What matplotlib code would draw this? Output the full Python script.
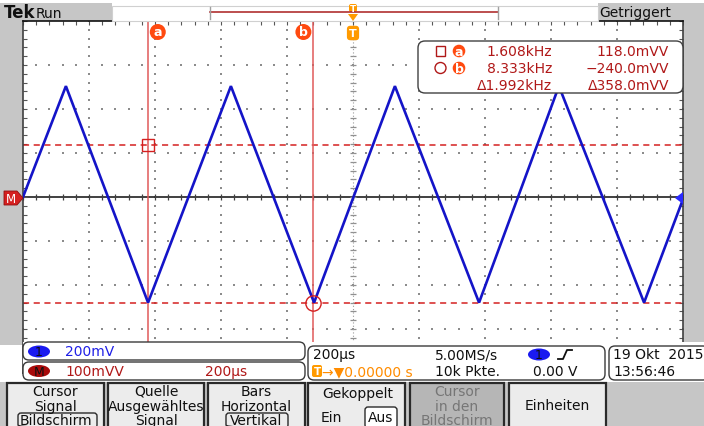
import matplotlib
matplotlib.use("Agg")
import matplotlib.pyplot as plt
import numpy as np
from matplotlib.patches import Rectangle, FancyBboxPatch, Ellipse, Polygon, Circle

# ---- acquisition data -------------------------------------------------------
wave_time_us = [-1000, -870, -621, -370, -118, 127, 382, 624, 882, 1000]
wave_mv = [0, 252, -240, 252, -240, 252, -240, 252, -240, -5]

cursor_names = ["a", "b"]
cursor_freq_khz = [1.608, 8.333]       # shown as 1/|t|
cursor_level_mv = [118.0, -240.0]

time_per_div_us = 200
volt_per_div_mv = 100
n_hdiv, n_vdiv = 10, 8

ch1_scale = "200mV"
math_scale = "100mVV"
math_time = "200µs"
horiz_scale = "200µs"
sample_rate = "5.00MS/s"
record_len = "10k Pkte."
trig_level = "0.00 V"
trig_pos = "0.00000 s"
date_str = "19 Okt  2015"
time_str = "13:56:46"

button_titles = [["Cursor", "Signal", "Bildschirm"],
                 ["Quelle", "Ausgewähltes", "Signal"],
                 ["Bars", "Horizontal", "Vertikal"],
                 ["Gekoppelt", "Ein", "Aus"],
                 ["Cursor", "in den", "Bildschirm"],
                 ["Einheiten"]]

# ---- figure / axes ---------------------------------------------------------
W, H = 704, 427
fig = plt.figure(figsize=(W / 100, H / 100), dpi=100, facecolor="white")
plt.rcParams["font.family"] = ["DejaVu Sans"]

GRAY = "#c6c6c6"
RED = "#b01818"
BLUE = "#2020e6"
ORANGE = "#ff9a00"
CURS = "#ff4a10"
FS = 10

bg = fig.add_axes([0, 0, 1, 1], zorder=0)
bg.set_xlim(0, W); bg.set_ylim(H, 0); bg.axis("off")

gx0, gx1, gy0, gy1 = 23, 683, 22, 374
ax = fig.add_axes([gx0 / W, 1 - gy1 / H, (gx1 - gx0) / W, (gy1 - gy0) / H], zorder=1)

ui = fig.add_axes([0, 0, 1, 1], zorder=2)
ui.set_xlim(0, W); ui.set_ylim(H, 0); ui.axis("off")
ui.patch.set_alpha(0)

# background frame
for x, y, w, h in [(0, 4, 112, 18), (598, 4, 106, 18), (0, 22, 23, 324),
                   (683, 22, 21, 325), (0, 383, W, 44)]:
    bg.add_patch(Rectangle((x, y), w, h, facecolor=GRAY, edgecolor="none"))

# ---- graticule --------------------------------------------------------------
tmax = n_hdiv / 2 * time_per_div_us
vmax = n_vdiv / 2 * volt_per_div_mv
ax.set_xlim(-tmax, tmax)
ax.set_ylim(-vmax, vmax)
ax.set_xticks([]); ax.set_yticks([])
for s in ax.spines.values():
    s.set_color("#404040"); s.set_linewidth(1.2)
ax.spines["top"].set_color("#101010")

dot_c = "#8c8c8c"
tdots = np.arange(-tmax, tmax + 1, time_per_div_us / 5)
vdots = np.arange(-vmax, vmax + 1, volt_per_div_mv / 5)
for k in range(1, n_hdiv):
    t = -tmax + k * time_per_div_us
    if t == 0:
        continue
    ax.scatter(np.full_like(vdots, t), vdots, s=1.3, marker="s", c=dot_c, linewidths=0, zorder=1)
for k in range(1, n_vdiv):
    v = -vmax + k * volt_per_div_mv
    if v == 0:
        continue
    ax.scatter(tdots, np.full_like(tdots, v), s=1.3, marker="s", c=dot_c, linewidths=0, zorder=1)

# centre lines with minor ticks
ax.axhline(0, color="#202020", lw=1.2, zorder=1.5)
ax.scatter(tdots, np.zeros_like(tdots), marker="|", s=14, c="#404040", linewidths=0.9, zorder=1.5)
ax.plot(np.zeros_like(vdots), vdots, color="#909090", lw=0, marker="_", ms=5, mew=0.9, zorder=1.5)
ax.axvline(0, color="#9a9a9a", lw=0.8, ls=(0, (1, 2)), zorder=1.5)
# edge ticks
ax.plot(tdots, np.full_like(tdots, vmax - 4), lw=0, marker="|", ms=3, mew=0.8, c="#555555")
ax.plot(np.full_like(vdots, -tmax + 6), vdots, lw=0, marker="_", ms=3, mew=0.8, c="#555555")
ax.plot(np.full_like(vdots, tmax - 6), vdots, lw=0, marker="_", ms=3, mew=0.8, c="#555555")

# ---- waveform ---------------------------------------------------------------
ax.plot(wave_time_us, wave_mv, color="#1414c8", lw=1.9, zorder=3, solid_joinstyle="miter")

# ---- cursors ----------------------------------------------------------------
cursor_t = [-1000.0 / f for f in cursor_freq_khz]
for name, t, v, mk, dx in zip(cursor_names, cursor_t, cursor_level_mv, ["s", "o"], [10, -10]):
    ax.axvline(t, color="#e05a5a", lw=1.1, zorder=2)
    ax.axhline(v, color="#d42020", lw=1.1, ls=(0, (4, 3)), zorder=2)
    ax.plot([t], [v], marker=mk, ms=9 if mk == "s" else 11, mfc="none", mec="#d42020", mew=1.0, zorder=4)
    ax.annotate(name, xy=(t, vmax), xytext=(dx, -11), textcoords="offset pixels",
                ha="center", va="center", color="white", fontsize=9, fontweight="bold",
                bbox=dict(boxstyle="circle,pad=0.12", fc=CURS, ec="none"), zorder=5)

# trigger marker inside graticule
ax.annotate("T", xy=(0, vmax), xytext=(0, -12), textcoords="offset pixels",
            ha="center", va="center", color="white", fontsize=8, fontweight="bold",
            bbox=dict(boxstyle="round,pad=0.2,rounding_size=0.3", fc=ORANGE, ec="none"), zorder=5)

# cursor readout box
ui.add_patch(FancyBboxPatch((418, 42), 265, 52, boxstyle="round,pad=0,rounding_size=7",
                            fc="white", ec="#404040", lw=1.0))
ui.add_patch(Rectangle((436, 47), 9, 10, fc="none", ec=RED, lw=1.0))
ui.add_patch(Circle((440.5, 69), 5.5, fc="none", ec=RED, lw=1.0))
for name, y in zip(cursor_names, [52, 69]):
    ui.add_patch(Circle((459, y), 6.3, fc=CURS, ec="none"))
    ui.text(459, y + 0.5, name, color="white", fontsize=9, fontweight="bold", ha="center", va="center")
rows_y = [52, 69]
for f, v, y in zip(cursor_freq_khz, cursor_level_mv, rows_y):
    ui.text(552, y, f"{f:.3f}kHz", color=RED, fontsize=FS, ha="right", va="center")
    ui.text(669, y, f"{v:.1f}mVV".replace("-", "\u2212"), color=RED, fontsize=FS, ha="right", va="center")
dfreq = 1000.0 / (cursor_t[1] - cursor_t[0])
dlev = cursor_level_mv[0] - cursor_level_mv[1]
ui.text(552, 86, f"\u0394{dfreq:.3f}kHz", color=RED, fontsize=FS, ha="right", va="center")
ui.text(669, 86, f"\u0394{dlev:.1f}mVV", color=RED, fontsize=FS, ha="right", va="center")

# ground / channel markers
ui.add_patch(Polygon([(4, 192), (17, 192), (23, 199), (17, 206), (4, 206)], closed=True,
                     fc="#d42020", ec="#901010", lw=0.6))
ui.text(11, 199.5, "M", color="white", fontsize=8.5, ha="center", va="center")
ui.add_patch(Polygon([(683, 193), (683, 205), (675, 199)], closed=True, fc="#2a2aff", ec="none"))

# ---- top status bar ---------------------------------------------------------
ui.text(4, 13.5, "Tek", fontsize=12, fontweight="bold", ha="left", va="center", color="#101010")
ui.text(36, 13.5, "Run", fontsize=FS, ha="left", va="center", color="#101010")
ui.add_patch(Rectangle((112, 7), 486, 15, fc="white", ec="#d0d0d0", lw=0.8))
ui.plot([210, 498], [13, 13], color="#b03030", lw=1.2)
ui.plot([210, 210], [8, 20], color="#a0a0a0", lw=1.0)
ui.plot([498, 498], [8, 20], color="#a0a0a0", lw=1.0)
ui.text(599, 13.5, "Getriggert", fontsize=FS, ha="left", va="center", color="#101010")
ui.add_patch(FancyBboxPatch((349, 5), 8, 8, boxstyle="round,pad=0,rounding_size=2", fc=ORANGE, ec="none"))
ui.text(353, 9.5, "T", color="white", fontsize=6.5, fontweight="bold", ha="center", va="center")
ui.add_patch(Polygon([(348, 15), (358, 15), (353, 22)], closed=True, fc=ORANGE, ec="none"))

# ---- readout boxes ----------------------------------------------------------
ui.add_patch(Rectangle((23, 343), W - 23, 40, fc="white", ec="none"))
box_kw = dict(boxstyle="round,pad=0,rounding_size=6", fc="white", ec="#3a3a3a", lw=1.0)
ui.add_patch(FancyBboxPatch((23, 343), 282, 18, **box_kw))
ui.add_patch(FancyBboxPatch((23, 363), 282, 18, **box_kw))
ui.add_patch(FancyBboxPatch((308, 347), 297, 34, **box_kw))
ui.add_patch(FancyBboxPatch((609, 347), 100, 34, **box_kw))

ui.add_patch(Ellipse((39, 352.5), 22, 12, fc="#1a1af0", ec="none"))
ui.text(39, 353, "1", fontsize=9, ha="center", va="center", color="#101010")
ui.text(65, 352.5, ch1_scale, fontsize=FS, ha="left", va="center", color=BLUE)
ui.add_patch(Ellipse((39, 372), 22, 12, fc="#a80a0a", ec="none"))
ui.text(39, 372.5, "M", fontsize=9, ha="center", va="center", color="#101010")
ui.text(65, 372, math_scale, fontsize=FS, ha="left", va="center", color=RED)
ui.text(205, 372, math_time, fontsize=FS, ha="left", va="center", color=RED)

ui.text(313, 355.5, horiz_scale, fontsize=FS, ha="left", va="center", color="#101010")
ui.text(435, 355.5, sample_rate, fontsize=FS, ha="left", va="center", color="#101010")
ui.add_patch(Ellipse((539, 355.5), 22, 12, fc="#1a1af0", ec="none"))
ui.text(539, 356, "1", fontsize=9, ha="center", va="center", color="#101010")
ui.plot([558, 563, 567, 572], [360, 360, 351, 351], color="#101010", lw=1.3)
ui.add_patch(FancyBboxPatch((312, 366), 10, 12, boxstyle="round,pad=0,rounding_size=2", fc=ORANGE, ec="none"))
ui.text(317, 372.5, "T", color="white", fontsize=7.5, fontweight="bold", ha="center", va="center")
ui.text(322, 372, "\u2192\u25bc" + trig_pos, fontsize=FS, ha="left", va="center", color="#ff8c00")
ui.text(435, 372, record_len, fontsize=FS, ha="left", va="center", color="#101010")
ui.text(533, 372, trig_level, fontsize=FS, ha="left", va="center", color="#101010")
ui.text(613, 355.5, date_str, fontsize=FS, ha="left", va="center", color="#101010")
ui.text(613, 372, time_str, fontsize=FS, ha="left", va="center", color="#101010")

# ---- soft-key buttons -------------------------------------------------------
btn_x = [(7, 104), (108, 204), (208, 305), (308, 405), (410, 504), (509, 606)]
for i, (x0, x1) in enumerate(btn_x):
    disabled = i == 4
    ui.add_patch(Rectangle((x0, 384), x1 - x0, 45, fc="#b6b6b6" if disabled else "#ececec",
                           ec="#2a2a2a", lw=1.6))
    cx = (x0 + x1) / 2
    tc = "#767676" if disabled else "#101010"
    labels = button_titles[i]
    if i in (0, 1, 2, 4):
        for lab, y in zip(labels, [392, 407, 421]):
            ui.text(cx, y, lab, fontsize=FS, ha="center", va="center", color=tc)
    elif i == 3:
        ui.text(cx + 1, 394, labels[0], fontsize=FS, ha="center", va="center", color=tc)
        ui.text(331, 418, labels[1], fontsize=FS, ha="center", va="center", color=tc)
        ui.add_patch(FancyBboxPatch((365, 408), 32, 21, boxstyle="round,pad=0,rounding_size=3",
                                    fc="white", ec="#2a2a2a", lw=1.0))
        ui.text(381, 418, labels[2], fontsize=FS, ha="center", va="center", color=tc)
    else:
        ui.text(cx, 406, labels[0], fontsize=FS, ha="center", va="center", color=tc)

# highlight boxes for the selected options
ui.add_patch(FancyBboxPatch((18, 414), 79, 15, boxstyle="round,pad=0,rounding_size=3",
                            fc="none", ec="#2a2a2a", lw=1.0))
ui.add_patch(Rectangle((108, 399), 96, 15, fc="white", ec="none", zorder=0.5))
ui.add_patch(FancyBboxPatch((226, 414), 62, 15, boxstyle="round,pad=0,rounding_size=3",
                            fc="none", ec="#2a2a2a", lw=1.0))

fig.savefig("out.png", dpi=100, facecolor="white")
